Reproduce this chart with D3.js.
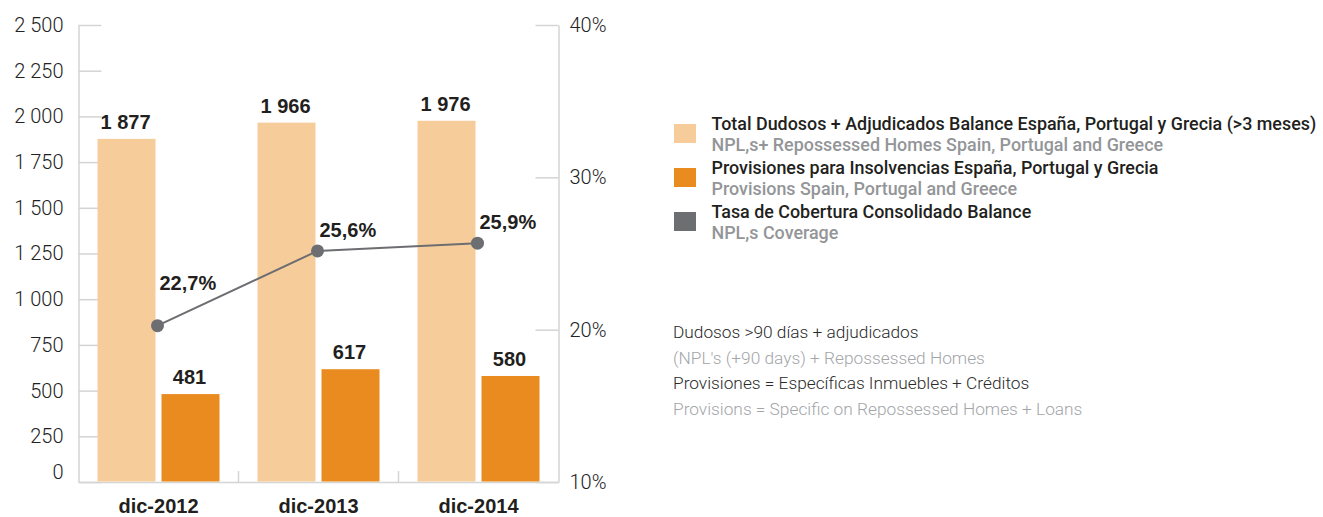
<!DOCTYPE html>
<html><head><meta charset="utf-8">
<script src="https://cdn.jsdelivr.net/npm/d3@7"></script>
<style>
body{margin:0;background:#fff}
svg text{font-family:Roboto,"Liberation Sans",Arial,sans-serif}
</style></head><body>
<svg id="c" width="1323" height="517"></svg>
<script>
// ---- data ----
const categories = ["dic-2012", "dic-2013", "dic-2014"];
const seriesKeys = ["total", "provisiones"];
const totalDudosos = [1877, 1966, 1976];
const provisiones = [481, 617, 580];
const coverage = [22.7, 25.6, 25.9];
const leftTicks = [0, 250, 500, 750, 1000, 1250, 1500, 1750, 2000, 2250, 2500];
const rightTicks = [10, 20, 30, 40];
const legendES = [
  "Total Dudosos + Adjudicados Balance España, Portugal y Grecia (>3 meses)",
  "Provisiones para Insolvencias España, Portugal y Grecia",
  "Tasa de Cobertura Consolidado Balance"
];
const legendEN = [
  "NPL,s+ Repossessed Homes Spain, Portugal and Greece",
  "Provisions Spain, Portugal and Greece",
  "NPL,s Coverage"
];
const notesLines = [
  "Dudosos >90 días + adjudicados",
  "(NPL's (+90 days) + Repossessed Homes",
  "Provisiones = Específicas Inmuebles + Créditos",
  "Provisions = Specific on Repossessed Homes + Loans"
];

// ---- style ----
const colors = {total: "#f7cc9b", provisiones: "#e98b1f", coverage: "#6d6e71"};
const axisColor = "#d4d4d4";
const dark = "#231f20";

const svg = d3.select("#c");
const loc = d3.formatLocale({decimal: ",", thousands: " ", grouping: [3], currency: ["", ""]});
const fmtNum = loc.format(",d");
const fmtPct = d => loc.format(".1f")(d) + "%";

const L = 78.5, R = 558.5, T = 25, B = 482;
const x = d3.scaleBand().domain(categories).range([L, R]).padding(0);
const xs = d3.scaleBand().domain(seriesKeys).range([0, x.bandwidth()])
  .paddingInner(0.09375).paddingOuter(0.297);
const yL = d3.scaleLinear().domain([0, 2500]).range([B, T]);
const yR = d3.scaleLinear().domain([10, 40]).range([B, T]);
// the coverage line uses its own (hidden) scale in the original chart
const yLine = d3.scaleLinear().domain([16.64, 34.36]).range([B, T]);

// axes
const gL = svg.append("g").attr("transform", `translate(${L},0)`)
  .call(d3.axisLeft(yL).tickValues(leftTicks).tickSize(-23).tickSizeOuter(0)
    .tickPadding(15).tickFormat(fmtNum));
const gR = svg.append("g").attr("transform", `translate(${R},0)`)
  .call(d3.axisRight(yR).tickValues(rightTicks).tickSize(-23).tickSizeOuter(0)
    .tickPadding(11).tickFormat(d => d + "%"));
const gB = svg.append("g").attr("transform", `translate(0,${B})`)
  .call(d3.axisBottom(x).tickSize(0).tickSizeOuter(0).tickPadding(17));
[gL, gR, gB].forEach(g => {
  g.selectAll("path.domain").attr("stroke", axisColor).attr("stroke-width", 1.5);
  g.selectAll(".tick line").attr("stroke", axisColor).attr("stroke-width", 1.5);
});
[gL, gR].forEach(g => g.selectAll(".tick text")
  .attr("font-size", 20).attr("font-weight", 300).attr("fill", "#222")
  .style("font-family", "Roboto, 'Liberation Sans', sans-serif"));
gL.selectAll(".tick text").filter(d => d === 0).attr("y", -10);
gB.selectAll(".tick text").attr("font-size", 20).attr("font-weight", 700).attr("fill", dark)
  .style("font-family", "'Liberation Sans', Arial, sans-serif");

// separators between categories
svg.append("g").selectAll("line").data(categories.slice(1)).join("line")
  .attr("x1", d => x(d)).attr("x2", d => x(d))
  .attr("y1", B - 11).attr("y2", B)
  .attr("stroke", axisColor).attr("stroke-width", 1.5);

// bars
const barData = [];
categories.forEach((c, i) => {
  barData.push({cat: c, key: "total", v: totalDudosos[i]});
  barData.push({cat: c, key: "provisiones", v: provisiones[i]});
});
svg.append("g").selectAll("rect").data(barData).join("rect")
  .attr("x", d => x(d.cat) + xs(d.key))
  .attr("width", xs.bandwidth())
  .attr("y", d => yL(d.v))
  .attr("height", d => yL(0) - yL(d.v) - 0.5)
  .attr("fill", d => colors[d.key]);

svg.append("g").selectAll("text").data(barData).join("text")
  .attr("x", d => x(d.cat) + xs(d.key) + xs.bandwidth() / 2 - 1)
  .attr("y", d => yL(d.v) - 10)
  .attr("text-anchor", "middle")
  .attr("font-size", 20).attr("font-weight", 700).attr("fill", dark)
  .style("font-family", "'Liberation Sans', Arial, sans-serif")
  .text(d => fmtNum(d.v));

// coverage line
const px = (c) => x(c) + x.bandwidth() / 2 - 1;
const lineData = categories.map((c, i) => ({cat: c, v: coverage[i]}));
svg.append("path").datum(lineData)
  .attr("d", d3.line().x(d => px(d.cat)).y(d => yLine(d.v)))
  .attr("fill", "none").attr("stroke", colors.coverage).attr("stroke-width", 2);
svg.append("g").selectAll("circle").data(lineData).join("circle")
  .attr("cx", d => px(d.cat)).attr("cy", d => yLine(d.v)).attr("r", 6.5)
  .attr("fill", colors.coverage);
svg.append("g").selectAll("text").data(lineData).join("text")
  .attr("x", d => px(d.cat) + 2)
  .attr("y", (d, i) => yLine(d.v) - (i === 0 ? 36 : 14))
  .attr("font-size", 20).attr("font-weight", 700).attr("fill", dark)
  .style("font-family", "'Liberation Sans', Arial, sans-serif")
  .text(d => fmtPct(d.v));

// legend
const legKeys = ["total", "provisiones", "coverage"];
const lg = svg.append("g").attr("transform", "translate(674,0)");
legKeys.forEach((k, i) => {
  const b1 = 130 + i * 44;
  lg.append("rect").attr("x", 0).attr("y", b1 - 6).attr("width", 22).attr("height", 19)
    .attr("fill", colors[k]);
  lg.append("text").attr("x", 37.5).attr("y", b1).text(legendES[i])
    .attr("font-size", 17.9).attr("font-weight", 500).attr("fill", dark);
  lg.append("text").attr("x", 37.5).attr("y", b1 + 21).text(legendEN[i])
    .attr("font-size", 17.9).attr("font-weight", 500).attr("fill", "#939598");
});

// notes
const ng = svg.append("g").attr("transform", "translate(673,0)");
ng.selectAll("text").data(notesLines).join("text")
  .attr("x", 0).attr("y", (d, i) => 338 + i * 25.5)
  .attr("font-size", 17.3).attr("font-weight", 300)
  .attr("fill", (d, i) => i % 2 === 0 ? "#2a2a2a" : "#a3a5a8")
  .text(d => d);
</script>
</body></html>
